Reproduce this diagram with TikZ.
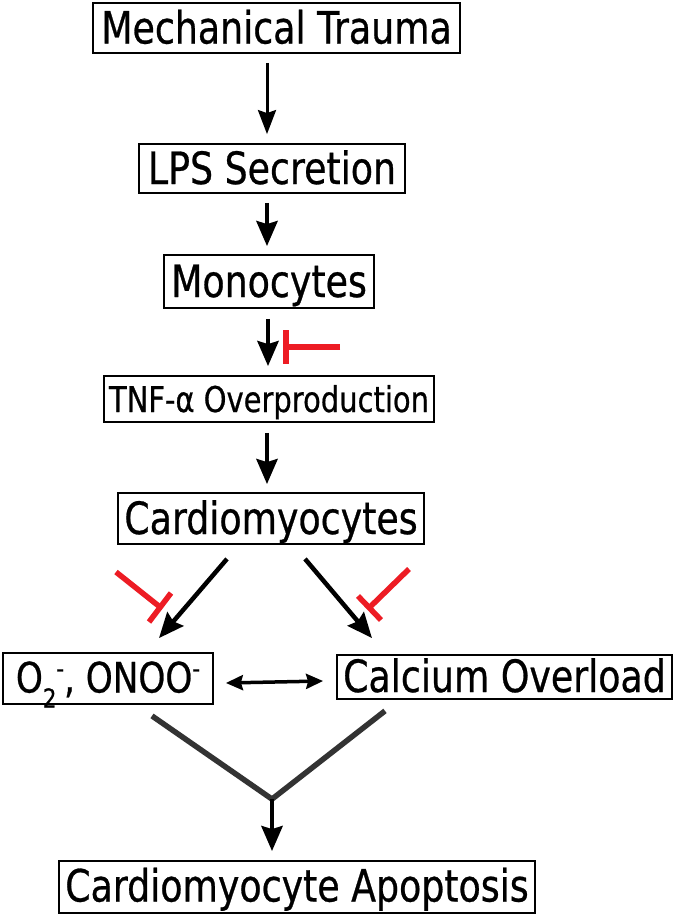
\documentclass[tikz,border=0pt]{standalone}
\usepackage{fontspec}
\setmainfont[FakeStretch=0.816,FakeBold=0.6]{DejaVu Sans}
\usetikzlibrary{arrows.meta,calc}
\definecolor{inhred}{HTML}{ED1C24}
\definecolor{ygray}{HTML}{333333}
\newcommand{\smallpart}[1]{{\fontsize{26pt}{26pt}\selectfont #1}}
\begin{document}
\begin{tikzpicture}[x=1pt,y=-1pt,
  box/.style={draw=black,line width=1.8pt,inner sep=0pt,text height=31pt,text depth=0pt,
    font=\fontsize{44.5pt}{50pt}\selectfont},
  arr/.style={line width=4.5pt,-{Stealth[length=25pt,width=21pt,inset=3pt]}},
  thinarr/.style={line width=3pt,-{Stealth[length=24pt,width=18pt,inset=3pt]}},
  dblarr/.style={line width=3.5pt,{Stealth[length=17pt,width=15pt,inset=2pt]}-{Stealth[length=17pt,width=15pt,inset=2pt]}},
  inh/.style={draw=inhred,line width=5.5pt},
  yline/.style={draw=ygray,line width=5.5pt}]
\useasboundingbox[fill=white] (0,0) rectangle (675,916);

\node[box,minimum width=367pt,minimum height=50pt] (mech) at (276.5,28) {Mechanical Trauma};
\node[box,minimum width=266pt,minimum height=49pt] (lps) at (272,168.5) {LPS Secretion};
\node[box,minimum width=210pt,minimum height=53pt] (mono) at (269,281.5) {Monocytes};
\node[box,minimum width=330pt,minimum height=46pt,text height=26pt,font=\fontsize{35.5pt}{42pt}\selectfont] (tnf) at (269,399) {TNF-α Overproduction};
\node[box,minimum width=306pt,minimum height=51pt] (cardio) at (271,518.5) {Cardiomyocytes};
\node[box,minimum width=210pt,minimum height=51pt,text height=28pt,font=\fontsize{42pt}{46pt}\selectfont] (o2) at (108,678.5) {O\raisebox{-15pt}{\smallpart{2}}\raisebox{15pt}{\smallpart{-}}, ONOO\raisebox{15pt}{\smallpart{-}}};
\node[box,minimum width=335pt,minimum height=44pt,text height=30pt] (calc) at (504.5,677) {Calcium Overload};
\node[box,minimum width=476pt,minimum height=52pt,text height=29pt] (apop) at (297,887) {Cardiomyocyte Apoptosis};

% vertical arrows
\draw[thinarr] ($(mech.south)+(-9.5,9)$) -- ($(lps.north)+(-5,-9)$);
\draw[arr] ($(lps.south)+(-5,9)$) -- ($(mono.north)+(-2,-8)$);
\draw[arr] ($(mono.south)+(-1,10)$) -- ($(tnf.north)+(-1,-9)$);
\draw[arr] ($(tnf.south)+(-2,10)$) -- ($(cardio.north)+(-4,-8)$);

% diagonal arrows
\draw[arr] ($(cardio.south)+(-44,14)$) -- ($(o2.north)+(51,-14)$);
\draw[arr] ($(cardio.south)+(34,14)$) -- ($(calc.north)+(-132.5,-16)$);

% double arrow
\draw[dblarr] ($(o2.east)+(12,4.5)$) -- ($(calc.west)+(-13,4)$);

% merging lines
\coordinate (j) at ($(apop.north)+(-25,-61)$);
\draw[yline] ($(o2.south)+(44,11)$) -- (j) -- ($(calc.south)+(-119.5,11)$);
\draw[arr] (j) -- ($(apop.north)+(-25,-9)$);

% inhibitors
\coordinate (m1) at (340,347); \coordinate (m2) at (286,347);
\draw[inh] (m1) -- (m2);
\draw[inh] (286,330) -- (286,364);
\coordinate (l1) at (116,572); \coordinate (l2) at (160,607);
\draw[inh] (l1) -- (l2);
\draw[inh] (171,593) -- (149,622);
\coordinate (r1) at (409,569); \coordinate (r2) at (370,607);
\draw[inh] (r1) -- (r2);
\draw[inh] (358,596) -- (381,620);
\end{tikzpicture}
\end{document}
